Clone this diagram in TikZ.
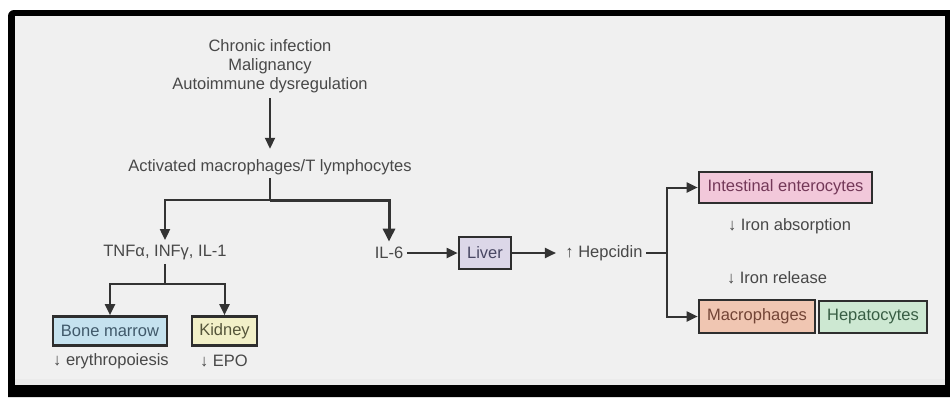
\documentclass[tikz,border=0pt]{standalone}
\usepackage{fontspec}
\setmainfont{Liberation Sans}
\usetikzlibrary{arrows.meta}
\definecolor{txt}{HTML}{484848}
\definecolor{bg}{HTML}{F0F0F0}
\definecolor{lc}{HTML}{333333}
\definecolor{boxline}{HTML}{2E2E2E}
\definecolor{bmfill}{HTML}{C5E2EF}
\definecolor{bmtext}{HTML}{40596A}
\definecolor{kdfill}{HTML}{F2F0C8}
\definecolor{kdtext}{HTML}{55553A}
\definecolor{lvfill}{HTML}{DCD7E8}
\definecolor{lvtext}{HTML}{484662}
\definecolor{iefill}{HTML}{F2C8DA}
\definecolor{ietext}{HTML}{733858}
\definecolor{macfill}{HTML}{F0C6B2}
\definecolor{mactext}{HTML}{724436}
\definecolor{hpfill}{HTML}{CDE8D2}
\definecolor{hptext}{HTML}{385E44}
\begin{document}
\begin{tikzpicture}[x=1pt,y=-1pt,
  every node/.style={font=\fontsize{16.5}{19}\selectfont, text=txt},
  box/.style={draw=boxline, line width=2.7pt, inner sep=0pt, minimum height=30pt},
  conn/.style={draw=lc, line width=2pt},
  arr/.style={conn, -{Triangle[length=11pt,width=10pt]}},
  thickarr/.style={draw=lc, line width=3pt, -{Triangle[length=13pt,width=12pt]}}]
\useasboundingbox (0,0) rectangle (950,397);
\fill[white] (0,0) rectangle (950,397);
\fill[black] (8,397) -- (8,16) arc[start angle=180, end angle=270, radius=6] -- (950,10) -- (950,397) -- cycle;
\fill[bg] (15,16) rectangle (945,385);
\fill[black!8] (15,379) rectangle (945,385);

\node[align=center] (title) at (270,66) {Chronic infection\\Malignancy\\Autoimmune dysregulation};
\node (act) at (270,167) {Activated macrophages/T lymphocytes};
\node (tnf) at (165,253) {TNFα, INFγ, IL-1};
\node (il6) at (389,253) {IL-6};
\node[box, fill=bmfill, text=bmtext, minimum width=114pt, minimum height=29pt] (bm) at (110,331) {Bone marrow};
\node[box, fill=kdfill, text=kdtext, minimum width=65pt, minimum height=29pt] (kid) at (224.5,331) {Kidney};
\node (ery) at (111,361) {↓ erythropoiesis};
\node (epo) at (224,361) {↓ EPO};
\node[box, fill=lvfill, text=lvtext, minimum width=52pt, minimum height=32pt] (liver) at (485,253) {Liver};
\node (hep) at (604,253) {↑ Hepcidin};
\node[box, fill=iefill, text=ietext, minimum width=173pt, minimum height=31pt] (ie) at (785.5,187.5) {Intestinal enterocytes};
\node (abs) at (789.5,226) {↓ Iron absorption};
\node (rel) at (777,278) {↓ Iron release};
\node[box, fill=macfill, text=mactext, minimum width=116pt, minimum height=33pt] (mac) at (757,316.5) {Macrophages};
\node[box, fill=hpfill, text=hptext, minimum width=108pt, minimum height=32pt] (hepa) at (873,317) {Hepatocytes};

\coordinate (f1) at (270,200);
\coordinate (f2) at (165,284);
\coordinate (f3) at (667,253);

\draw[arr, shorten <=2pt, shorten >=7pt] (title.south) -- (act.north);
\draw[conn] (act.south) -- (f1);
\draw[arr, shorten >=2pt] (f1) -| (tnf.north);
\draw[thickarr, shorten >=2pt] (f1) -| (il6.north);
\draw[conn] (tnf.south) -- (f2);
\draw[arr] (f2) -| (bm.north);
\draw[arr] (f2) -| (kid.north);
\draw[arr] (il6.east) -- (liver.west);
\draw[arr, shorten >=6pt] (liver.east) -- (hep.west);
\draw[conn] (hep.east) -- (f3);
\draw[arr] (f3) |- (ie.west);
\draw[arr] (f3) |- (mac.west);
\end{tikzpicture}
\end{document}
